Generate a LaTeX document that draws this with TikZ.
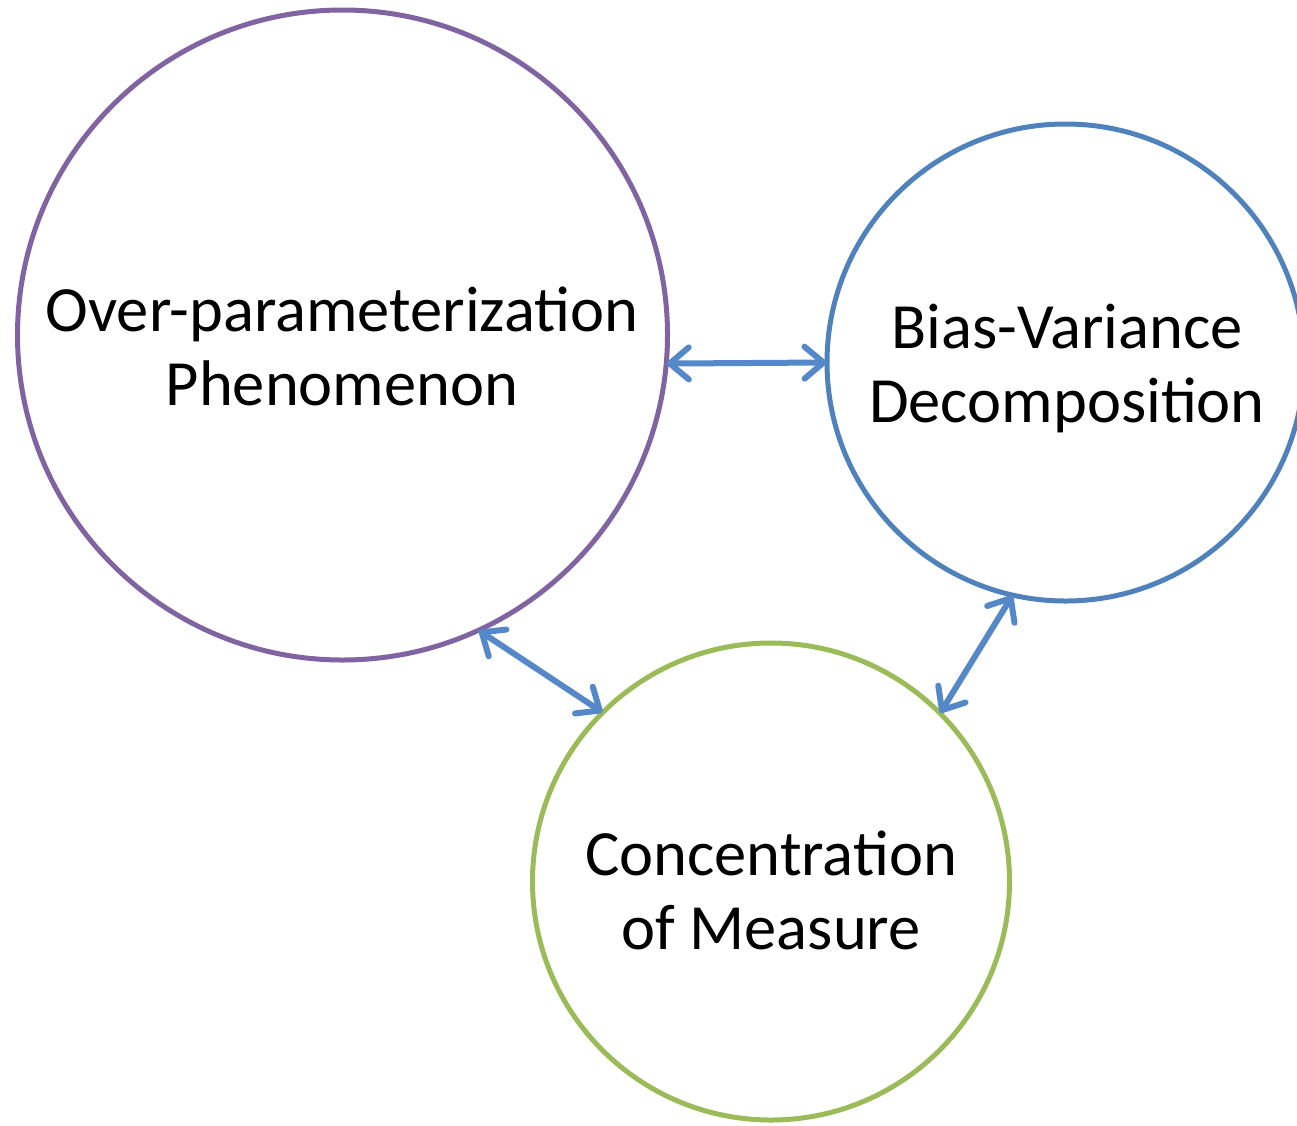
\documentclass[tikz,border=0pt]{standalone}
\usepackage{fontspec}
\setmainfont{Carlito}
\usetikzlibrary{arrows.meta}
\definecolor{cpurple}{HTML}{8064A2}
\definecolor{cblue}{HTML}{4F81BD}
\definecolor{cgreen}{HTML}{9BBB59}
\definecolor{carrow}{HTML}{5588C8}
\begin{document}
\begin{tikzpicture}[x=1pt,y=-1pt,
  ring/.style={circle,draw,line width=5pt,inner sep=0pt},
  label/.style={align=center,font=\fontsize{64.5}{74}\selectfont,text=black},
  link/.style={carrow,line width=6pt,line cap=round,
    {Straight Barb[round,length=19pt,width=32pt]}-{Straight Barb[round,length=19pt,width=32pt]},
    shorten <=-2pt,shorten >=-2pt}]
\useasboundingbox (0,0) rectangle (1297,1125);
\node[ring,draw=cpurple,minimum size=650pt] (over) at (342.5,335) {};
\node[ring,draw=cblue,minimum size=477pt] (bias) at (1065.5,362.5) {};
\node[ring,draw=cgreen,minimum size=477pt] (conc) at (771,881.5) {};
\node[label] (overt) at (342,346) {Over-parameterization\\Phenomenon};
\node[label] (biast) at (1067,368) {Bias-Variance\\Decomposition};
\node[label] (conct) at (771,890) {Concentration\\of Measure};
\draw[link] (over.-5.2) -- (bias.180);
\draw[link] (over.-65.2) -- (conc.135);
\draw[link] (bias.-103) -- (conc.45.3);
\end{tikzpicture}
\end{document}
